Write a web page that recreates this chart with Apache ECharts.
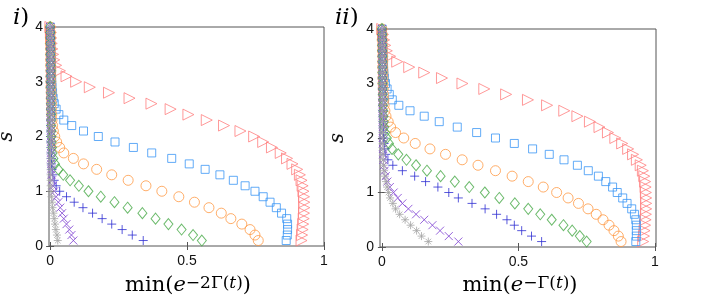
<!DOCTYPE html>
<html><head><meta charset="utf-8">
<script src="https://cdn.jsdelivr.net/npm/echarts@6/dist/echarts.min.js"></script>
<style>html,body{margin:0;padding:0;background:#fff}#c{width:706px;height:303px}</style>
</head><body><div id="c"></div>
<script>
// s values (vertical axis), shared by every series
const S = [0.1,0.2,0.3,0.4,0.5,0.6,0.7,0.8,0.9,1.0,1.1,1.2,1.3,1.4,1.5,1.6,1.7,1.8,1.9,2.0,
           2.1,2.2,2.3,2.4,2.5,2.6,2.7,2.8,2.9,3.0,3.1,3.2,3.3,3.4,3.5,3.6,3.7,3.8,3.9,4.0];
const xTicks = [0, 0.5, 1];
const yTicks = [0, 1, 2, 3, 4];

// Panel i): min(e^{-2Γ(t)})
const redI    = [.918,.92,.922,.924,.926,.927,.928,.928,.927,.925,.922,.918,.912,.902,.885,.865,.842,.81,.778,.745,.695,.635,.572,.505,.44,.37,.29,.215,.145,.095,.06,.036,.022,.015,.011,.008,.006,.004,.003,.001];
const blueI   = [.862,.866,.867,.867,.864,.845,.826,.803,.778,.748,.712,.669,.62,.566,.508,.444,.371,.304,.237,.176,.122,.079,.05,.032,.022,.015,.011,.009,.007,.006,.005,.005,.004,.004,.003,.003,.002,.002,.001,.001];
const orangeI = [.76,.748,.73,.70,.66,.625,.58,.527,.47,.408,.35,.285,.225,.17,.122,.085,.05,.035,.024,.017,.012,.009,.007,.006,.005,.005,.004,.004,.003,.003,.003,.003,.002,.002,.002,.002,.001,.001,.001,0];
const greenI  = [.554,.522,.48,.432,.385,.337,.283,.235,.185,.14,.105,.073,.048,.03,.018,.012,.009,.007,.006,.005,.005,.004,.004,.004,.003,.003,.003,.003,.002,.002,.002,.002,.002,.002,.001,.001,.001,.001,.001,0];
const plusI   = [.34,.30,.263,.225,.19,.155,.12,.088,.06,.035,.022,.015,.01,.007,.005,.004,.004,.003,.003,.003,.003,.002,.002,.002,.002,.002,.002,.002,.002,.001,.001,.001,.001,.001,.001,.001,.001,.001,0,0];
const purpleI = [.085,.078,.07,.06,.05,.044,.037,.03,.022,.015,.01,.007,.005,.004,.004,.003,.003,.003,.003,.002,.002,.002,.002,.002,.002,.002,.002,.001,.001,.001,.001,.001,.001,.001,.001,.001,.001,0,0,0];
const grayI   = [.028,.025,.021,.018,.015,.012,.009,.007,.005,.003,.002,.002,.002,.002,.002,.002,.002,.002,.002,.002,.002,.002,.002,.001,.001,.001,.001,.001,.001,.001,.001,.001,.001,.001,.001,.001,0,0,0,0];

// Panel ii): min(e^{-Γ(t)})
const redII    = [.957,.96,.962,.964,.966,.967,.968,.968,.968,.967,.966,.964,.961,.956,.948,.934,.92,.902,.88,.855,.828,.797,.762,.716,.668,.605,.535,.455,.375,.295,.22,.155,.1,.056,.03,.018,.012,.008,.004,.001];
const blueII   = [.93,.932,.932,.932,.93,.925,.915,.898,.882,.862,.845,.82,.793,.756,.716,.667,.613,.552,.485,.416,.347,.276,.21,.155,.103,.062,.038,.027,.019,.013,.009,.007,.006,.005,.004,.003,.003,.002,.001,.001];
const orangeII = [.876,.866,.85,.832,.81,.785,.755,.72,.682,.64,.591,.536,.477,.416,.352,.294,.233,.176,.122,.08,.05,.032,.023,.015,.011,.008,.007,.006,.005,.004,.004,.004,.003,.003,.003,.002,.002,.001,.001,0];
const greenII  = [.75,.725,.697,.665,.622,.58,.536,.487,.43,.377,.32,.267,.215,.165,.125,.09,.06,.037,.026,.018,.012,.009,.007,.006,.005,.004,.004,.003,.003,.003,.002,.002,.002,.002,.002,.001,.001,.001,.001,0];
const plusII   = [.585,.548,.512,.485,.458,.42,.378,.33,.28,.245,.205,.16,.12,.075,.04,.022,.014,.01,.008,.006,.005,.005,.004,.004,.003,.003,.003,.003,.002,.002,.002,.002,.002,.001,.001,.001,.001,.001,0,0];
const purpleII = [.28,.245,.213,.185,.155,.125,.097,.075,.058,.043,.029,.02,.014,.01,.007,.005,.004,.004,.003,.003,.003,.003,.002,.002,.002,.002,.002,.002,.002,.001,.001,.001,.001,.001,.001,.001,.001,0,0,0];
const grayII   = [.17,.145,.127,.105,.085,.065,.05,.04,.03,.024,.019,.015,.011,.008,.006,.005,.004,.004,.003,.003,.003,.003,.002,.002,.002,.002,.002,.002,.001,.001,.001,.001,.001,.001,.001,.001,0,0,0,0];

const styles = [
  {color:'#ff8080', symbol:'path://M0,0L10,5L0,10Z', size:[11,11]},
  {color:'#3b96f5', symbol:'rect', size:8},
  {color:'#ff9a45', symbol:'circle', size:10},
  {color:'#48aa48', symbol:'diamond', size:[9,11]},
  {color:'#2f2fd2', symbol:'path://M5,0L5,10M0,5L10,5', size:9},
  {color:'#7d3fd2', symbol:'path://M0,0L10,10M10,0L0,10', size:8},
  {color:'#a6a6a6', symbol:'path://M5,0L5,10M0,5L10,5M1.5,1.5L8.5,8.5M8.5,1.5L1.5,8.5', size:8}
];
const panelI  = [redI, blueI, orangeI, greenI, plusI, purpleI, grayI];
const panelII = [redII, blueII, orangeII, greenII, plusII, purpleII, grayII];

const series = [];
[panelI, panelII].forEach((panel, p) => {
  panel.forEach((arr, k) => {
    const st = styles[k];
    series.push({
      type:'scatter', xAxisIndex:p, yAxisIndex:p, clip:false, silent:true,
      symbol: st.symbol, symbolSize: st.size,
      itemStyle:{color:'rgba(0,0,0,0)', borderColor:st.color, borderWidth:1},
      data: S.map((s,i)=>[arr[i], s])
    });
  });
});

const serif = 'DejaVu Serif';
const tickCol = '#555';
function xAx(grid, min, max, pos, showLabel){
  return {type:'value', gridIndex:grid, min:min, max:max, position:pos,
    splitLine:{show:false}, axisLine:{show:false},
    axisTick:{show:true, inside:true, length:4, lineStyle:{color:tickCol}, customValues:xTicks},
    axisLabel:{show:showLabel, customValues:xTicks, margin:8, color:'#111', fontFamily:'Liberation Sans', fontSize:14,
      formatter:v=>String(v)}};
}
function yAx(grid, pos, showLabel, name){
  return {type:'value', gridIndex:grid, min:0, max:4, position:pos,
    name: name || '', nameLocation:'middle', nameGap:32,
    nameTextStyle:{fontFamily:serif, fontStyle:'italic', fontSize:20, color:'#111'},
    splitLine:{show:false}, axisLine:{show:false},
    axisTick:{show:true, inside:true, length:4, lineStyle:{color:tickCol}, customValues:yTicks},
    axisLabel:{show:showLabel, customValues:yTicks, margin:6, color:'#111', fontFamily:'Liberation Sans', fontSize:14,
      formatter:v=>String(v)}};
}

const rich = {
  m:{fontFamily:serif, fontSize:21, color:'#111'},
  e:{fontFamily:serif, fontSize:21, fontStyle:'italic', color:'#111'},
  su:{fontFamily:serif, fontSize:17, color:'#111', verticalAlign:'top'},
  si:{fontFamily:serif, fontSize:17, fontStyle:'italic', color:'#111', verticalAlign:'top'},
  pm:{fontFamily:serif, fontSize:23, color:'#111'},
  pe:{fontFamily:serif, fontSize:23, fontStyle:'italic', color:'#111'}
};

const option = {
  animation:false,
  grid:[
    {left:49, top:27, width:275, height:219, show:true, borderColor:'#555', borderWidth:1, backgroundColor:'#fff',
     containLabel:false, outerBoundsMode:'none'},
    {left:380, top:29, width:276, height:218, show:true, borderColor:'#555', borderWidth:1, backgroundColor:'#fff',
     containLabel:false, outerBoundsMode:'none'}
  ],
  xAxis:[ xAx(0,-0.004,1,'bottom',true), xAx(1,-0.007,1.004,'bottom',true),
          xAx(0,-0.004,1,'top',false), xAx(1,-0.007,1.004,'top',false) ],
  yAxis:[ yAx(0,'left',true,'s'), yAx(1,'left',true,'s'), yAx(0,'right',false), yAx(1,'right',false) ],
  series: series,
  graphic:[
    {type:'text', style:{x:188, y:286, align:'center', verticalAlign:'middle',
      text:'{m|min(}{e|e}{su|−2Γ(}{si|t}{su|)}{m|)}', rich:rich}},
    {type:'text', style:{x:520, y:286, align:'center', verticalAlign:'middle',
      text:'{m|min(}{e|e}{su|−Γ(}{si|t}{su|)}{m|)}', rich:rich}},
    {type:'text', style:{x:13, y:18, verticalAlign:'middle',
      text:'{pe|i}{pm|)}', rich:rich}},
    {type:'text', style:{x:335, y:18, verticalAlign:'middle',
      text:'{pe|ii}{pm|)}', rich:rich}}
  ]
};
const chart = echarts.init(document.getElementById('c'), null, {renderer:'canvas'});
chart.setOption(option);
</script>
</body></html>
